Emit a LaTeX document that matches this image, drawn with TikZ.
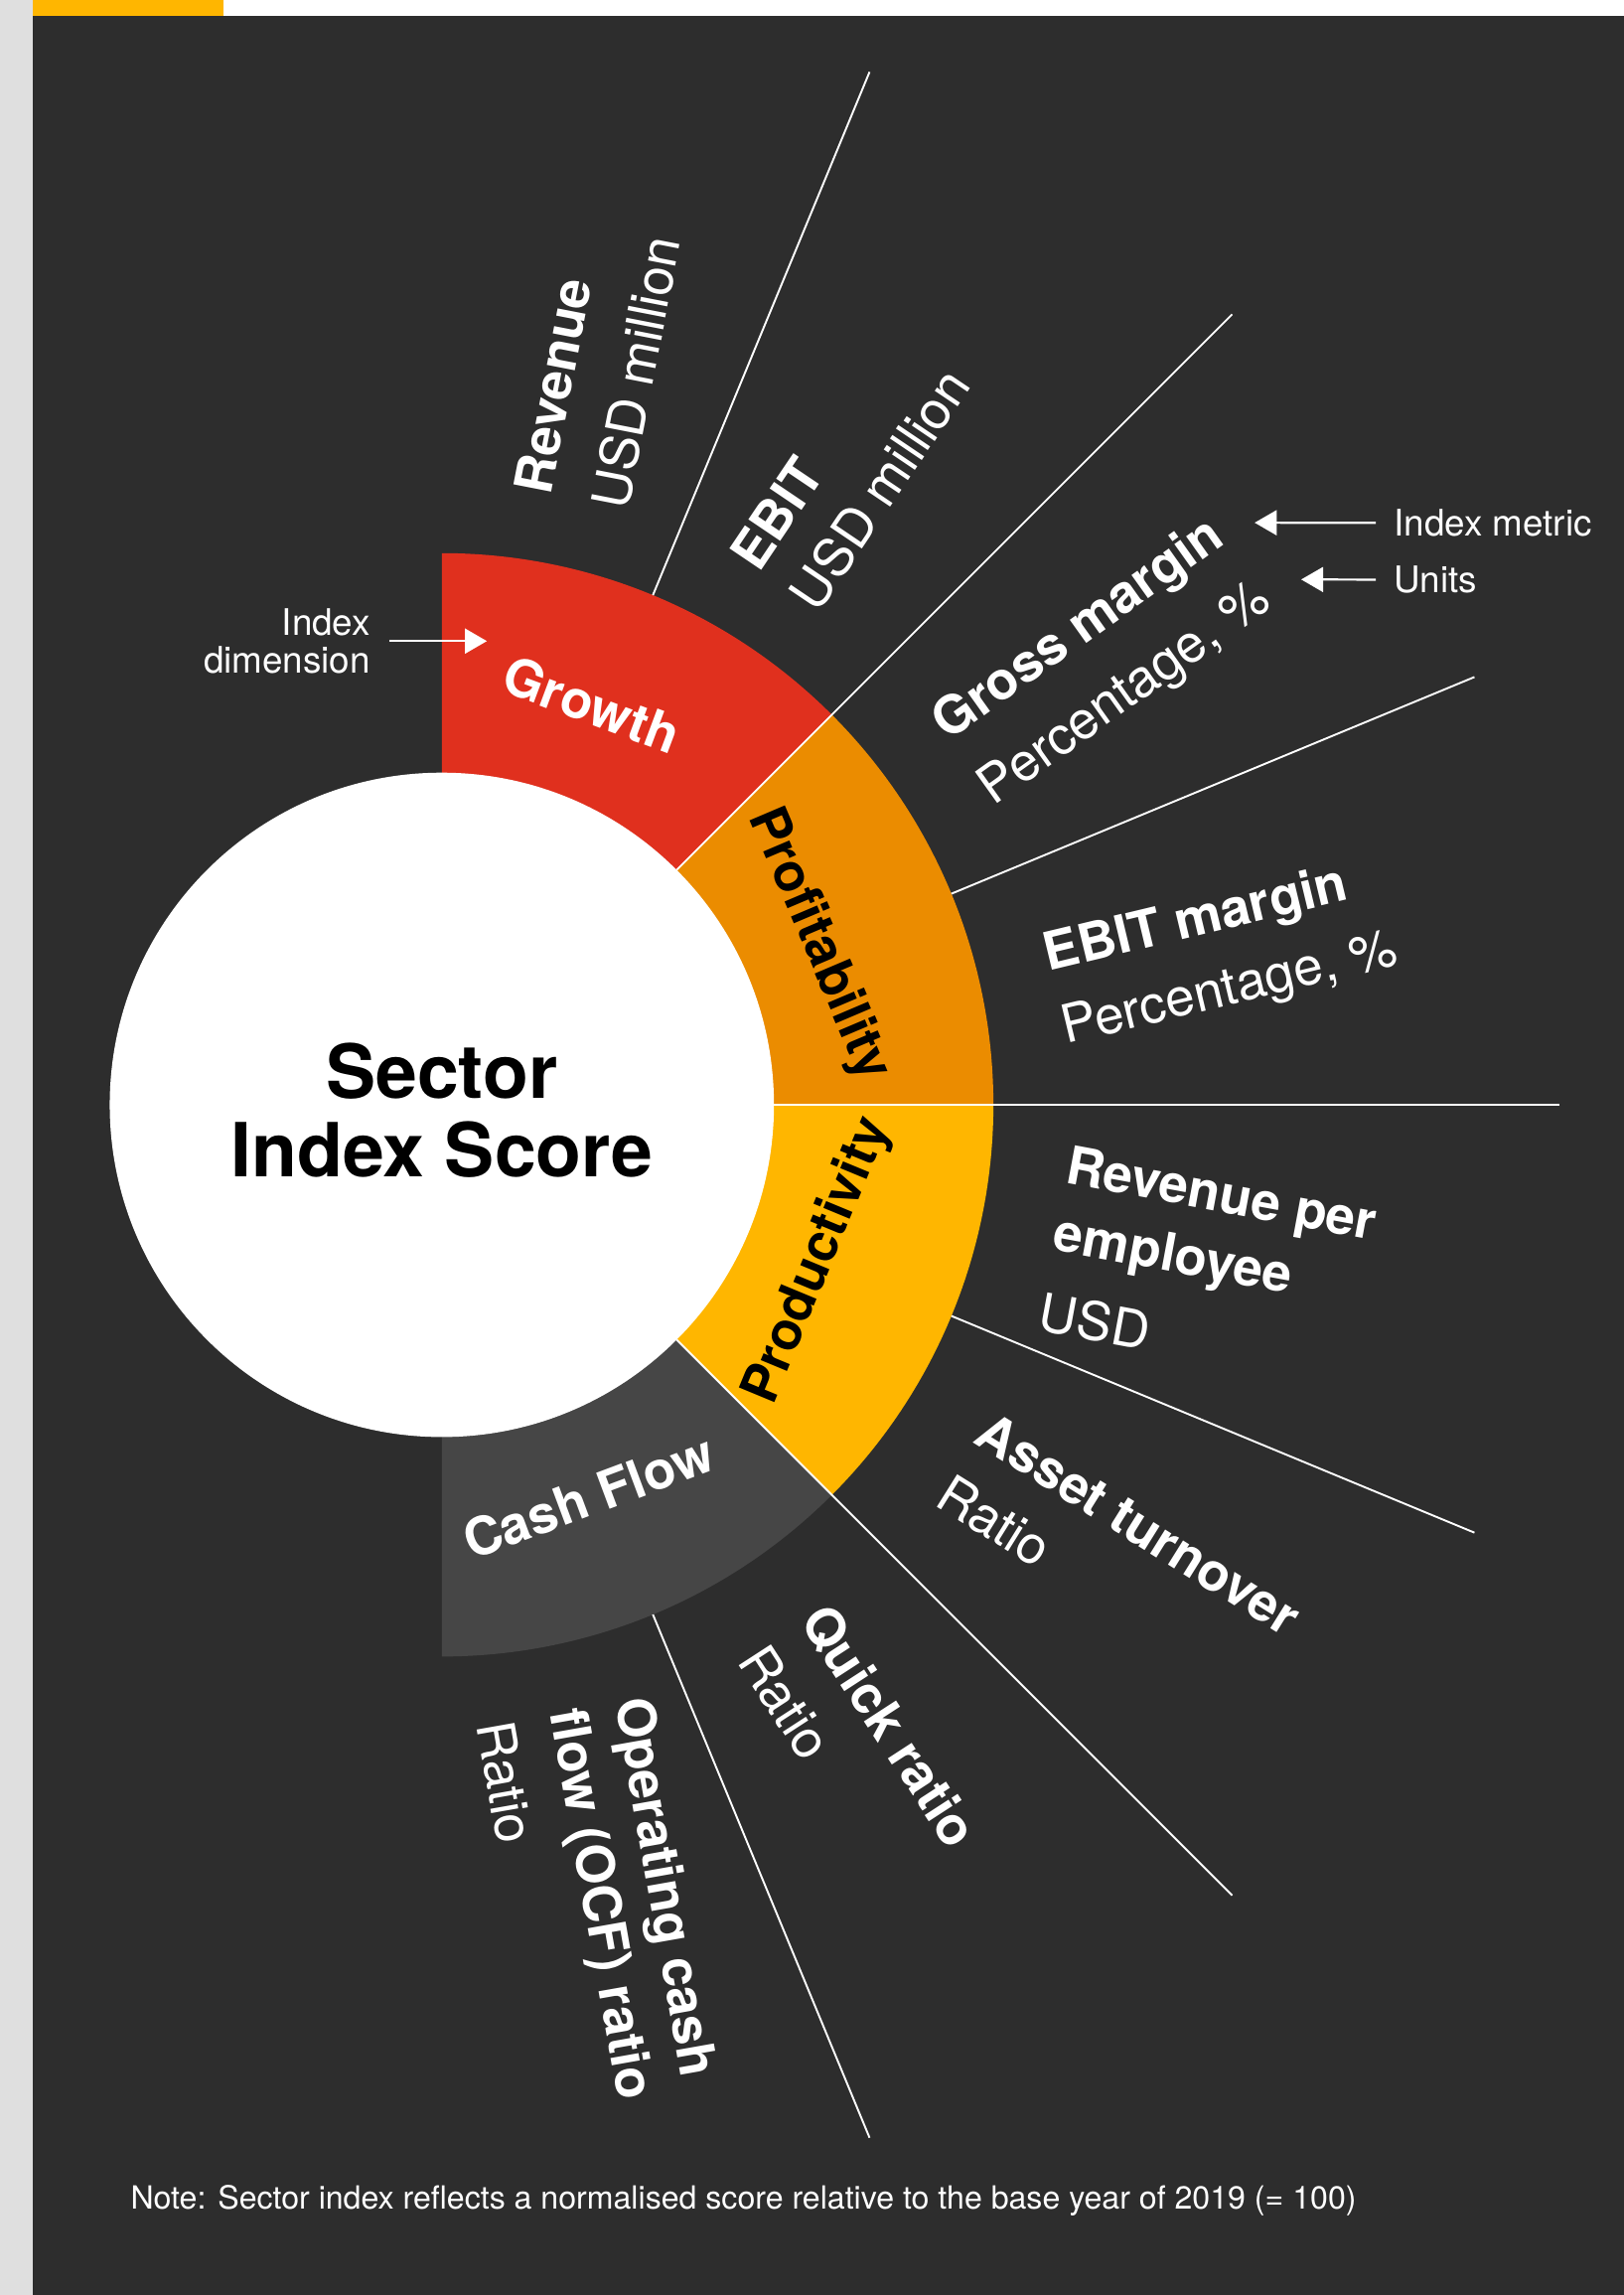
\documentclass[tikz,border=0pt]{standalone}
\usepackage{fontspec}
\setmainfont{TeX Gyre Heros}
\usetikzlibrary{arrows.meta}

\definecolor{pageback}{HTML}{2D2D2D}
\definecolor{pwcred}{HTML}{E0301E}
\definecolor{pwcorange}{HTML}{EB8C00}
\definecolor{pwcyellow}{HTML}{FFB600}
\definecolor{cashgrey}{HTML}{464646}
\definecolor{sidegrey}{HTML}{DFDFDF}

\tikzset{
  spoke/.style={white, line width=1.3pt},
  metricbold/.style={anchor=base west, inner sep=0pt, text=white,
    font=\bfseries\fontsize{36}{44}\selectfont},
  metricunit/.style={anchor=base west, inner sep=0pt, text=white,
    font=\fontsize{36}{44}\selectfont},
  dimlabel/.style={inner sep=0pt, text height=26pt, text depth=0pt,
    font=\bfseries\fontsize{36}{44}\selectfont},
  annot/.style={inner sep=0pt, text=white, font=\fontsize{25}{26}\selectfont},
  annarrow/.style={white, line width=1.5pt, -{Triangle[length=15pt,width=17pt]}},
  titletext/.style={anchor=base, inner sep=0pt, text=black,
    font=\bfseries\fontsize{51}{54}\selectfont},
}

% metric: name, angle, start of first baseline, line gap, bold line, units line
\newcommand\metricpair[6]{%
  \begin{scope}[shift={(#3)}, rotate=#2]
    \node[metricbold, rotate=#2] (#1) at (-2,0) {#5};
    \node[metricunit, rotate=#2] (#1-unit) at (-2,-#4) {#6};
  \end{scope}}
% metric with two bold lines: name, angle, start, gap, gap, bold, bold, units
\newcommand\metrictriple[8]{%
  \begin{scope}[shift={(#3)}, rotate=#2]
    \node[metricbold, rotate=#2] (#1) at (-2,0) {#6};
    \node[metricbold, rotate=#2] (#1-second) at (-2,-#4) {#7};
    \node[metricunit, rotate=#2] (#1-unit) at (-2,-#4-#5) {#8};
  \end{scope}}

\begin{document}
\begin{tikzpicture}[x=1pt,y=1pt]
  \useasboundingbox (-302,-813.3) rectangle (808,755);

  % page frame
  \fill[sidegrey] (-302,-813.3) rectangle (-279.6,755);
  \fill[white] (-279.6,744.1) rectangle (808,755);
  \fill[pwcyellow] (-279.6,744.1) rectangle (-149.2,755);
  \fill[pageback] (-279.6,-813.3) rectangle (808,744.1);

  % the four index dimensions as ring sectors
  \fill[pwcred] (0,0) -- (45:377pt) arc[start angle=45, end angle=90, radius=377pt] -- cycle;
  \fill[pwcorange] (0,0) -- (0:377pt) arc[start angle=0, end angle=45, radius=377pt] -- cycle;
  \fill[pwcyellow] (0,0) -- (-45:377pt) arc[start angle=-45, end angle=0, radius=377pt] -- cycle;
  \fill[cashgrey] (0,0) -- (-90:377pt) arc[start angle=-90, end angle=-45, radius=377pt] -- cycle;

  % spokes between the metrics
  \foreach \a in {45,0,-45} \draw[spoke] (\a:227pt) -- (\a:764pt);
  \foreach \a in {67.5,22.5,-22.5,-67.5} \draw[spoke] (\a:377pt) -- (\a:764pt);

  % centre disc and title
  \node[circle, fill=white, minimum size=454pt, inner sep=0pt] (core) at (0,0) {};
  \node[titletext] (title-top) at (0,4.4) {Sector};
  \node[titletext] (title-bottom) at (0,-49.5) {Index Score};

  % dimension names on the ring
  \node[dimlabel, text=white, rotate=-20.5] (growth) at (69.5:292pt) {Growth};
  \node[dimlabel, text=black, rotate=-67] (profitability) at (23:283pt) {Profitability};
  \node[dimlabel, text=black, rotate=67.5] (productivity) at (-22.5:275pt) {Productivity};
  \node[dimlabel, text=white, rotate=20.5] (cashflow) at (-69.5:286pt) {Cash Flow};

  % metrics with their units
  \metricpair{revenue}{79}{74.8,417.8}{54}{Revenue}{USD million}
  \metricpair{ebit}{56}{217.8,364.3}{49}{EBIT}{USD million}
  \metricpair{grossmargin}{35.5}{347.5,249.2}{54}{Gross margin}{Percentage, \%}
  \metricpair{ebitmargin}{13.5}{416.5,91.5}{51}{EBIT margin}{Percentage, \%}
  \metrictriple{revperemp}{-10.5}{427,-53.6}{46.5}{56}{Revenue per}{employee}{USD}
  \metricpair{assetturn}{-32}{363.9,-231.4}{50.3}{Asset turnover}{Ratio}
  \metricpair{quickratio}{-57}{245,-354}{50.8}{Quick ratio}{Ratio}
  \metrictriple{ocf}{-80}{118.6,-409.2}{45}{51}{Operating cash}{flow (OCF) ratio}{Ratio}

  % legend annotations
  \node[annot, align=right, anchor=east] (dimnote) at (-48.6,316.9) {Index\\dimension};
  \coordinate (dimtip) at (30.8,316.9);
  \draw[annarrow] ([xshift=13pt]dimnote.east) -- (dimtip);

  \node[annot, anchor=base west] (metricnote) at (650.7,388.8) {Index metric};
  \coordinate (metrictip) at (555.6,397.8);
  \draw[annarrow] ([xshift=-12.4pt]metricnote.west) -- (metrictip);

  \node[annot, anchor=base west] (unitnote) at (650.7,350) {Units};
  \coordinate (unittip) at (587.4,359);
  \draw[annarrow] ([xshift=-12.4pt]unitnote.west) -- (unittip);

  % footnote
  \node[anchor=base west, inner sep=0pt, text=white, font=\fontsize{21.8}{26}\selectfont]
    (footnote) at (-212.9,-754.4)
    {Note: Sector index reflects a normalised score relative to the base year of 2019 (= 100)};
\end{tikzpicture}
\end{document}
